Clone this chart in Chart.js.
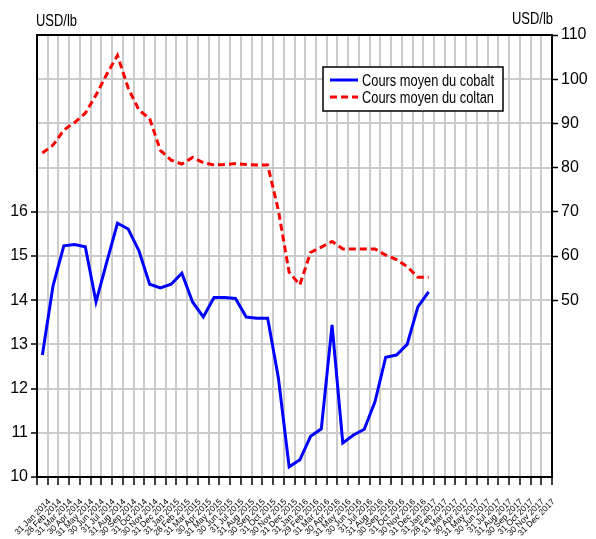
<!DOCTYPE html>
<html>
<head>
<meta charset="utf-8">
<script src="https://cdn.jsdelivr.net/npm/chart.js@4/dist/chart.umd.min.js"></script>
<style>
  html, body { margin: 0; padding: 0; background: #fff; }
  #wrap { width: 596px; height: 539px; }
</style>
</head>
<body>
<div id="wrap"><canvas id="chart" width="596" height="539"></canvas></div>
<script>
// DONNEES
const months = [
    "31 Jan 2014", "28 Feb 2014", "31 Mar 2014", "30 Apr 2014", "31 May 2014", "30 Jun 2014",
    "31 Jul 2014", "31 Aug 2014", "30 Sep 2014", "31 Oct 2014", "30 Nov 2014", "31 Dec 2014",
    "31 Jan 2015", "28 Feb 2015", "31 Mar 2015", "30 Apr 2015", "31 May 2015", "30 Jun 2015",
    "31 Jul 2015", "31 Aug 2015", "30 Sep 2015", "31 Oct 2015", "30 Nov 2015", "31 Dec 2015",
    "31 Jan 2016", "29 Feb 2016", "31 Mar 2016", "30 Apr 2016", "31 May 2016", "30 Jun 2016",
    "31 Jul 2016", "31 Aug 2016", "30 Sep 2016", "31 Oct 2016", "30 Nov 2016", "31 Dec 2016",
    "31 Jan 2017", "28 Feb 2017", "31 Mar 2017", "30 Apr 2017", "31 May 2017", "30 Jun 2017",
    "31 Jul 2017", "31 Aug 2017", "30 Sep 2017", "31 Oct 2017", "30 Nov 2017", "31 Dec 2017"
];

// cours du cobalt, axe de gauche (USD/lb)
const cobalt = [
    12.76, 14.33, 15.23, 15.26, 15.21, 13.96, 14.86, 15.74, 15.61, 15.12, 14.36, 14.28,
    14.36, 14.61, 13.96, 13.62, 14.06, 14.06, 14.04, 13.62, 13.59, 13.59, 12.24, 10.23,
    10.39, 10.92, 11.09, 13.44, 10.77, 10.95, 11.08, 11.70, 12.71, 12.76, 13.00, 13.85,
    14.19, null, null, null, null, null, null, null, null, null, null, null
];

// cours du coltan, axe de droite (USD/lb)
const coltan = [
    83.3, 85.1, 88.5, 90.2, 92.3, 96.4, 101.1, 105.4, 98.0, 93.0, 91.1, 83.9,
    81.7, 80.8, 82.3, 81.1, 80.6, 80.7, 80.9, 80.7, 80.6, 80.6, 70.3, 56.3,
    53.5, 60.8, 62.0, 63.3, 61.6, 61.6, 61.6, 61.6, 60.2, 59.2, 57.6, 55.2,
    55.2, null, null, null, null, null, null, null, null, null, null, null
];

const leftTicksShown = [10, 11, 12, 13, 14, 15, 16];
const rightTicksShown = [50, 60, 70, 80, 90, 100, 110];

const seriesNames = ["Cours moyen du cobalt", "Cours moyen du coltan"];
const unitLabel = "USD/lb";

const FONT = "'Liberation Sans Narrow', 'Arial Narrow', 'Liberation Sans', Arial, sans-serif";

// texte compressé pour tenir dans une largeur donnée
function fitText(ctx, text, x, y, maxW) {
    const w = ctx.measureText(text).width;
    ctx.save();
    ctx.translate(x, y);
    if (w > maxW) ctx.scale(maxW / w, 1);
    ctx.fillText(text, 0, 0);
    ctx.restore();
}

// cadre, titres d'axes et légende
const decorPlugin = {
    id: 'decor',
    afterDatasetsDraw(chart) {
        const ctx = chart.ctx;
        const a = chart.chartArea;
        ctx.save();
        ctx.strokeStyle = '#000';
        ctx.lineWidth = 2;
        ctx.strokeRect(a.left, a.top, a.right - a.left, a.bottom - a.top);

        ctx.fillStyle = '#000';
        ctx.font = '16px ' + FONT;
        ctx.textBaseline = 'alphabetic';
        ctx.textAlign = 'left';
        fitText(ctx, unitLabel, 36, 26, 41);
        fitText(ctx, unitLabel, 512, 24, 41);

        // légende
        const bx = 323, by = 67, bw = 180, bh = 44;
        ctx.fillStyle = '#fff';
        ctx.fillRect(bx, by, bw, bh);
        ctx.strokeStyle = '#000';
        ctx.lineWidth = 1.5;
        ctx.strokeRect(bx, by, bw, bh);

        ctx.lineWidth = 3;
        ctx.strokeStyle = '#0000ff';
        ctx.setLineDash([]);
        ctx.beginPath(); ctx.moveTo(330, 80); ctx.lineTo(358, 80); ctx.stroke();
        ctx.strokeStyle = '#ff0000';
        ctx.setLineDash([7, 4]);
        ctx.beginPath(); ctx.moveTo(330, 97); ctx.lineTo(358, 97); ctx.stroke();
        ctx.setLineDash([]);

        ctx.fillStyle = '#000';
        ctx.font = '16px ' + FONT;
        fitText(ctx, seriesNames[0], 362, 86, 132);
        fitText(ctx, seriesNames[1], 362, 103, 132);
        ctx.restore();
    }
};

new Chart(document.getElementById('chart').getContext('2d'), {
    type: 'line',
    data: {
        labels: months,
        datasets: [{
            label: seriesNames[0],
            data: cobalt,
            yAxisID: 'y',
            borderColor: '#0000ff',
            backgroundColor: '#0000ff',
            borderWidth: 3,
            pointRadius: 0,
            tension: 0,
            fill: false
        }, {
            label: seriesNames[1],
            data: coltan,
            yAxisID: 'y1',
            borderColor: '#ff0000',
            backgroundColor: '#ff0000',
            borderWidth: 3,
            borderDash: [7, 4],
            pointRadius: 0,
            tension: 0,
            fill: false
        }]
    },
    options: {
        responsive: false,
        animation: false,
        layout: { padding: { top: 35, left: 0, right: 0, bottom: 0 } },
        plugins: {
            legend: { display: false },
            tooltip: { enabled: false }
        },
        scales: {
            x: {
                type: 'category',
                offset: true,
                afterFit(scale) {
                    scale.height = 62;
                    scale.paddingLeft = 0;
                    scale.paddingRight = 0;
                },
                grid: {
                    offset: true,
                    color: '#cccccc',
                    lineWidth: 2,
                    tickLength: 8,
                    tickColor: '#000',
                    tickWidth: 1.5
                },
                border: { display: true, color: '#000', width: 2 },
                ticks: {
                    autoSkip: false,
                    maxRotation: 45,
                    minRotation: 45,
                    padding: 12,
                    labelOffset: 7,
                    color: '#000',
                    font: { family: FONT, size: 8.5 }
                }
            },
            y: {
                position: 'left',
                min: 10,
                max: 20,
                afterFit(scale) { scale.width = 37; },
                ticks: {
                    stepSize: 1,
                    padding: 3,
                    color: '#000',
                    font: { family: FONT, size: 16 },
                    callback: v => leftTicksShown.includes(v) ? String(v) : ''
                },
                grid: {
                    color: '#cccccc',
                    lineWidth: 2,
                    tickLength: 6,
                    tickWidth: 1.5,
                    tickColor: c => (c.tick && leftTicksShown.includes(c.tick.value)) ? '#000' : 'rgba(0,0,0,0)'
                },
                border: { display: true, color: '#000', width: 2 }
            },
            y1: {
                position: 'right',
                min: 10,
                max: 110,
                afterFit(scale) { scale.width = 44; },
                ticks: {
                    stepSize: 10,
                    padding: 3,
                    color: '#000',
                    font: { family: FONT, size: 16 },
                    callback: v => rightTicksShown.includes(v) ? String(v) : ''
                },
                grid: {
                    drawOnChartArea: false,
                    tickLength: 6,
                    tickWidth: 1.5,
                    tickColor: c => (c.tick && rightTicksShown.includes(c.tick.value)) ? '#000' : 'rgba(0,0,0,0)'
                },
                border: { display: true, color: '#000', width: 2 }
            }
        }
    },
    plugins: [decorPlugin]
});
</script>
</body>
</html>
